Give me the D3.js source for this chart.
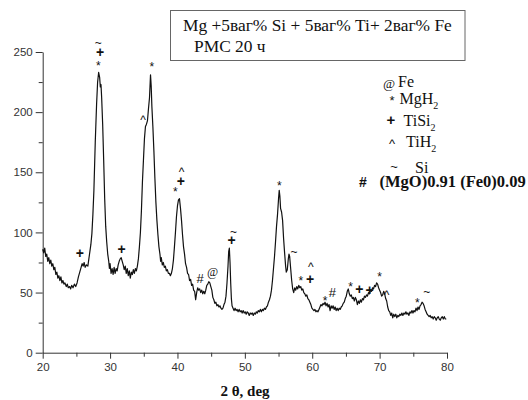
<!DOCTYPE html>
<html><head><meta charset="utf-8">
<script src="https://cdn.jsdelivr.net/npm/d3@7"></script>
<style>body{margin:0;background:#fff}svg{display:block}</style>
</head><body>
<script>
// ---- data ----
const twoTheta = [20.0,20.15,20.3,20.45,20.6,20.75,20.9,21.05,21.2,21.35,21.5,21.65,21.8,21.95,22.1,22.25,22.4,22.55,22.7,22.85,23.0,23.15,23.3,23.5,23.65,23.8,24.0,24.15,24.3,24.5,24.7,24.9,25.1,25.3,25.5,25.7,25.85,26.0,26.15,26.3,26.5,26.7,26.85,27.0,27.15,27.3,27.45,27.6,27.8,28.0,28.15,28.3,28.45,28.55,28.65,28.75,28.9,29.05,29.2,29.35,29.5,29.65,29.8,29.9,30.0,30.15,30.3,30.45,30.6,30.75,30.9,31.05,31.2,31.35,31.5,31.65,31.8,31.95,32.1,32.25,32.4,32.55,32.7,32.85,33.0,33.15,33.3,33.45,33.6,33.75,33.9,34.05,34.2,34.35,34.5,34.65,34.8,34.95,35.1,35.25,35.4,35.55,35.7,35.85,36.0,36.1,36.2,36.35,36.5,36.65,36.8,36.95,37.1,37.25,37.4,37.5,37.6,37.75,37.9,38.05,38.2,38.35,38.5,38.65,38.8,38.95,39.1,39.25,39.4,39.55,39.7,39.85,40.0,40.15,40.3,40.45,40.6,40.75,40.9,41.05,41.2,41.35,41.5,41.65,41.8,41.95,42.1,42.25,42.4,42.55,42.7,42.85,43.0,43.15,43.3,43.45,43.6,43.75,43.9,44.05,44.2,44.35,44.5,44.65,44.8,44.95,45.1,45.25,45.4,45.55,45.7,45.85,46.0,46.15,46.3,46.45,46.6,46.75,46.9,47.05,47.2,47.35,47.5,47.6,47.7,47.8,47.9,48.0,48.1,48.25,48.4,48.55,48.7,48.85,49.0,49.15,49.3,49.45,49.6,49.75,49.9,50.05,50.2,50.35,50.5,50.65,50.8,50.95,51.1,51.25,51.4,51.55,51.7,51.85,52.0,52.15,52.3,52.45,52.6,52.75,52.9,53.05,53.2,53.35,53.5,53.65,53.8,53.95,54.1,54.25,54.4,54.55,54.7,54.85,55.0,55.1,55.2,55.3,55.45,55.6,55.75,55.9,56.05,56.15,56.3,56.45,56.55,56.65,56.8,56.95,57.1,57.25,57.4,57.55,57.7,57.85,58.0,58.15,58.3,58.45,58.6,58.75,58.9,59.05,59.2,59.35,59.5,59.65,59.8,59.95,60.1,60.25,60.4,60.55,60.7,60.85,61.0,61.15,61.3,61.45,61.6,61.75,61.9,62.05,62.2,62.35,62.5,62.65,62.8,62.95,63.1,63.25,63.4,63.55,63.7,63.85,64.0,64.15,64.3,64.45,64.6,64.75,64.9,65.05,65.2,65.35,65.5,65.65,65.8,65.95,66.1,66.25,66.4,66.55,66.7,66.85,67.0,67.15,67.3,67.45,67.6,67.75,67.9,68.05,68.2,68.35,68.5,68.65,68.8,68.95,69.1,69.25,69.4,69.55,69.7,69.85,70.0,70.15,70.3,70.45,70.6,70.75,70.9,71.05,71.2,71.35,71.5,71.65,71.8,71.95,72.1,72.25,72.4,72.55,72.7,72.85,73.0,73.15,73.3,73.45,73.6,73.75,73.9,74.05,74.2,74.35,74.5,74.65,74.8,74.95,75.1,75.25,75.4,75.55,75.7,75.85,76.0,76.15,76.3,76.45,76.6,76.75,76.9,77.05,77.2,77.35,77.5,77.65,77.8,77.95,78.1,78.25,78.4,78.55,78.7,78.85,79.0,79.15,79.3,79.45,79.6,79.75,79.9];
const intensity = [86,83,87,80,82,76,79,74,77,72,74,69,71,65,67,62,64,60,63,58,60,57,58,55,57,54,55,53,56,54,57,55,58,63,67,71,74,72,75,71,73,72,78,84,90,99,115,135,175,207,225,233,229,221,223,212,190,160,128,105,92,82,76,70,74,66,70,65,71,66,70,68,73,76,78,79,76,73,69,72,66,70,64,68,62,67,65,69,66,70,68,72,78,88,100,118,142,160,178,188,190,193,203,212,231,222,205,188,168,145,125,110,98,88,82,76,79,73,75,71,72,68,69,66,66,64,66,70,77,88,100,113,122,127,128,120,110,98,88,82,74,71,66,65,60,61,56,57,52,51,44,50,54,52,53,50,52,49,51,49,52,56,57,59,58,55,52,46,44,41,42,39,40,38,39,37,36,37,40,42,47,58,72,84,87,75,58,45,39,37,35,37,35,36,34,36,34,35,33,35,33,34,32,34,33,31,33,32,33,31,33,32,34,33,35,34,36,34,36,35,37,36,38,39,42,44,47,52,60,70,80,92,105,115,128,135,130,120,117,110,95,83,72,67,69,78,82,80,70,60,53,50,54,52,55,53,56,54,55,52,53,50,49,47,48,45,44,42,40,37,36,35,36,34,35,34,36,38,40,39,41,40,42,39,41,38,40,35,39,37,39,36,38,35,37,35,37,36,38,39,41,42,45,47,51,53,49,47,48,45,46,43,46,44,40,43,41,44,42,45,44,47,46,48,47,50,49,52,51,54,53,56,55,58,57,54,52,50,47,48,51,49,45,43,38,35,34,31,33,29,32,30,32,29,31,30,32,31,33,31,33,32,34,32,33,31,34,33,35,33,35,34,37,35,38,36,39,40,42,41,39,36,34,32,31,30,31,29,30,28,30,29,27,29,30,28,27,29,30,28,30,28,28];
const xTicks = [20,30,40,50,60,70,80];
const xMinorTicks = [25,35,45,55,65,75];
const yTicks = [0,50,100,150,200,250];
const yMinorTicks = [25,75,125,175,225];
// peak marks: 2θ, intensity level of the mark, symbol
const markX = [28.26,28.5,28.26,36.2,34.9,25.5,31.7,40.6,40.5,39.7,43.35,45.2,48.3,48.05,55.1,57.3,59.8,59.7,58.3,61.9,63.0,65.7,67.0,68.5,70.0,71.05,75.6,77.0];
const markY = [258,250,240,239,195,83,86,152,143,135,62,67,101,94,140,84,73,61,61,45,50,56,53,52,65,50,43,51];
const markSym = ["~","+","*","*","^","+","+","^","+","*","#","@","~","+","*","~","^","+","*","*","#","*","+","+","*","^","*","~"];
const legendSymbols = ["@","*","+","^","~","#"];
const legendNames = ["Fe","MgH","TiSi","TiH","Si","(MgO)0.91 (Fe0)0.09"];
const legendSubs = ["","2","2","2","",""];
const titleLines = ["Mg +5ваг% Si + 5ваг% Ti+ 2ваг% Fe","РМС 20 ч"];
const xLabel = "2 θ, deg";

// ---- chart ----
const W = 528, H = 400;
const svg = d3.select("body").append("svg").attr("width", W).attr("height", H);
const x = d3.scaleLinear().domain([20, 80]).range([42.7, 447]);
const y = d3.scaleLinear().domain([0, 250]).range([352.7, 52]);
const axisColor = "#333";
const sans = "'Liberation Sans', Arial, sans-serif";
const serif = "'Liberation Serif', 'Times New Roman', serif";

const gx = svg.append("g").attr("transform", `translate(0,${y(0)})`);
gx.call(d3.axisBottom(x).tickValues(xTicks).tickSize(6).tickPadding(4).tickSizeOuter(0));
gx.append("g").call(d3.axisBottom(x).tickValues(xMinorTicks).tickSize(4).tickFormat("").tickSizeOuter(0))
  .select(".domain").remove();
const gy = svg.append("g").attr("transform", `translate(${x(20)},0)`);
gy.call(d3.axisLeft(y).tickValues(yTicks).tickSize(7).tickPadding(3).tickSizeOuter(0));
gy.append("g").call(d3.axisLeft(y).tickValues(yMinorTicks).tickSize(4).tickFormat("").tickSizeOuter(0))
  .select(".domain").remove();
svg.selectAll(".domain, .tick line").attr("stroke", axisColor).attr("stroke-width", 1);
svg.selectAll(".tick text").attr("fill", "#333").style("font-family", sans).style("font-size", "11.5px");

// curve
const pts = twoTheta.map((t, i) => [t, intensity[i]]);
svg.append("path").datum(pts)
  .attr("fill", "none").attr("stroke", "#111").attr("stroke-width", 1.2).attr("stroke-linejoin", "round")
  .attr("d", d3.line().x(d => x(d[0])).y(d => y(d[1])));

// peak marks
const symStyle = {
  "*": {size: 12, font: sans, dy: 6},
  "+": {size: 14, font: sans, dy: 5, weight: "bold"},
  "~": {size: 12, font: sans, dy: 4.5},
  "^": {size: 12, font: sans, dy: 6},
  "#": {size: 13, font: sans, dy: 4.5},
  "@": {size: 12, font: serif, dy: 4, style: "italic"}
};
markX.forEach((mx, i) => {
  const s = markSym[i], st = symStyle[s];
  svg.append("text").attr("x", x(mx)).attr("y", y(markY[i]) + st.dy)
    .attr("text-anchor", "middle").attr("fill", "#111")
    .style("font-family", st.font).style("font-size", st.size + "px")
    .style("font-weight", st.weight || "normal").style("font-style", st.style || "normal")
    .text(s);
});

// title box
svg.append("rect").attr("x", 170.5).attr("y", 10.5).attr("width", 294.5).attr("height", 50)
  .attr("fill", "#fff").attr("stroke", "#666").attr("stroke-width", 1);
svg.append("text").attr("x", 183).attr("y", 31).style("font-family", serif).style("font-size", "17.4px")
  .attr("fill", "#111").text(titleLines[0]);
svg.append("text").attr("x", 194).attr("y", 52).style("font-family", serif).style("font-size", "17.4px")
  .attr("fill", "#111").text(titleLines[1]);

// legend
const legSymX = [389, 392, 391, 392, 394, 363];
const legSymY = [87, 104, 126, 147, 173, 187];
const legSymBase = [88, 105, 125, 148, 171, 187];
const legTxtX = [398, 399.5, 403.5, 406, 415, 379.5];
legendNames.forEach((n, i) => {
  const s = legendSymbols[i], st = symStyle[s];
  svg.append("text").attr("x", legSymX[i]).attr("y", legSymBase[i])
    .attr("text-anchor", "middle").attr("fill", "#111")
    .style("font-family", st.font).style("font-size", (st.size + 1) + "px")
    .style("font-weight", s === "#" ? "bold" : (st.weight || "normal")).style("font-style", st.style || "normal")
    .text(s);
  const t = svg.append("text").attr("x", legTxtX[i]).attr("y", legSymY[i]).attr("fill", "#111")
    .style("font-family", serif).style("font-size", i === 5 ? "16.5px" : "16px")
    .style("font-weight", i === 5 ? "bold" : "normal").text(n);
  if (legendSubs[i]) t.append("tspan").attr("dy", 5).style("font-size", "10px").text(legendSubs[i]);
});

// x label
svg.append("text").attr("x", 245).attr("y", 396).attr("text-anchor", "middle")
  .style("font-family", serif).style("font-size", "15px").style("font-weight", "bold").attr("fill", "#111")
  .text(xLabel);
</script>
</body></html>
